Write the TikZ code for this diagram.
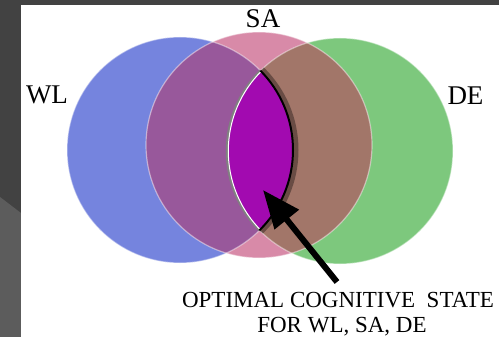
\documentclass[tikz,border=0pt]{standalone}
\usepackage{fontspec}
\setmainfont{Liberation Serif}
\usepackage{tikz}
\usetikzlibrary{arrows.meta}
\definecolor{wlblue}{RGB}{117,132,222}
\definecolor{sapink}{RGB}{216,138,168}
\definecolor{degreen}{RGB}{125,200,125}
\definecolor{wlsa}{RGB}{152,88,155}
\definecolor{sade}{RGB}{162,118,105}
\definecolor{lens}{RGB}{162,10,176}
\definecolor{slidedark}{RGB}{66,66,66}
\definecolor{slidelight}{RGB}{92,92,92}
\tikzset{
  lbl/.style={font=\fontsize{27}{30}\selectfont, inner sep=0pt},
  caption/.style={font=\fontsize{23}{27}\selectfont, inner sep=0pt, anchor=base},
  rim/.style={white, opacity=0.45, line width=1.2pt}
}

\begin{document}
\begin{tikzpicture}[x=1pt, y=-1pt, >={Triangle[length=38pt,width=30pt]}]
				\useasboundingbox (0,0) rectangle (499,337);
				\def\rad{113pt}
				\path
				
				(180,150) coordinate (wl)
				(259,145) coordinate (sa)
				(340,151) coordinate (de)
				(263,190) coordinate (tip)
				(337,282) coordinate (tail)
				;
				
				% slide frame
				\fill[slidedark] (0,0) rectangle (499,337);
				\fill[slidelight] (0,197) -- (21,213) -- (21,337) -- (0,337) -- cycle;
				\fill[white] (21,5) rectangle (499,337);
				
				% the three sets
				\fill[wlblue] (wl) circle[radius=\rad];
				\fill[degreen] (de) circle[radius=\rad];
				\fill[sapink] (sa) circle[radius=\rad];
				\begin{scope}
					\clip (wl) circle[radius=\rad];
					\fill[wlsa] (sa) circle[radius=\rad];
				\end{scope}
				\begin{scope}
					\clip (de) circle[radius=\rad];
					\fill[sade] (sa) circle[radius=\rad];
				\end{scope}
				\draw[rim] (wl) circle[radius=\rad];
				\draw[rim] (sa) circle[radius=\rad];
				\draw[rim] (de) circle[radius=\rad];
				
				% optimal state
				\begin{scope}
					\clip (wl) circle[radius=\rad];
					\fill[lens] (de) circle[radius=\rad];
					\draw[gray, line width=2.5pt] (de) circle[radius=\rad];
					\draw[white, line width=1pt] ([xshift=1.3pt]de) circle[radius=\rad];
				\end{scope}
				\begin{scope}
					\clip (de) circle[radius=\rad];
					\draw[black, opacity=0.35, line width=5pt] ([xshift=3pt]wl) circle[radius=\rad];
					\draw[black, line width=2pt] (wl) circle[radius=\rad];
				\end{scope}
				
				\draw[line width=6pt, ->] (tail) -- (tip);
				
				\node[lbl] (wlname) at (47,95) {WL};
				\node[lbl] (saname) at (263,18.5) {SA};
				\node[lbl] (dename) at (465.5,95.5) {DE};
				\node[caption] (state) at (338,307) {OPTIMAL COGNITIVE~ STATE};
				\node[caption] (forall) at (342,332) {FOR WL, SA, DE};
				
\end{tikzpicture}
\end{document}
